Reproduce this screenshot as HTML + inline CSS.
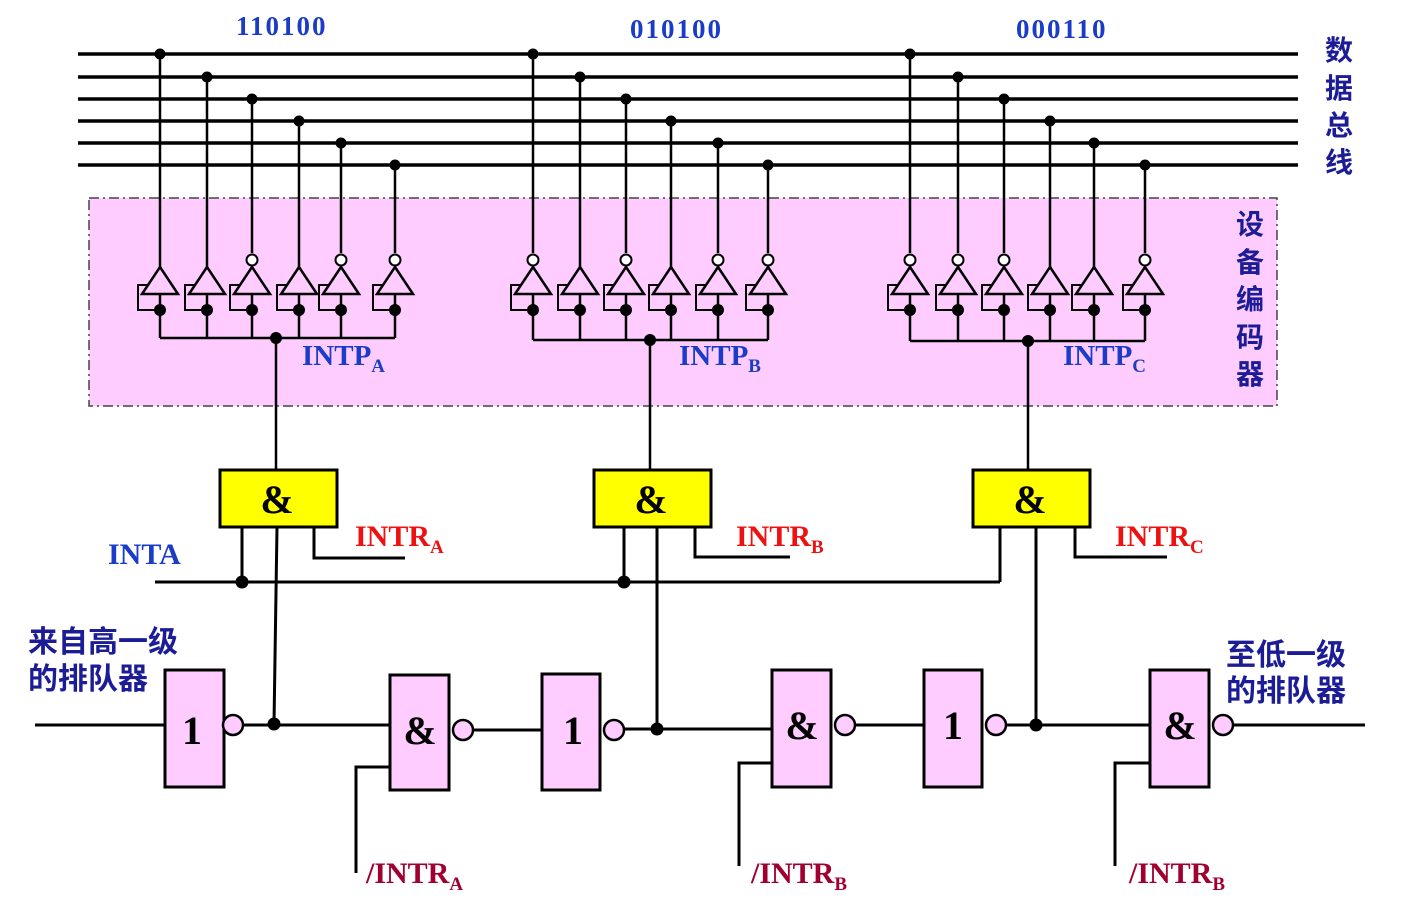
<!DOCTYPE html>
<html><head><meta charset="utf-8"><style>
html,body{margin:0;padding:0;background:#fff;width:1427px;height:919px;overflow:hidden}
svg{display:block}
.b{font-family:"Liberation Serif",serif;font-weight:bold}
.c{font-family:"Liberation Sans","Noto Sans CJK SC",sans-serif;font-weight:bold;fill:#1c1c96}
</style></head><body>
<svg id="s" width="1427" height="919" viewBox="0 0 1427 919" xmlns="http://www.w3.org/2000/svg">
<rect x="89" y="198" width="1188" height="208" fill="#ffccff" stroke="#444" stroke-width="1.5" stroke-dasharray="10,4,2,4"/>
<g id="g" stroke="#000" stroke-width="3" fill="none"></g>
<g id="d" fill="#000"></g>
<text class="b" x="236" y="35" font-size="27" letter-spacing="2" fill="#1a3cc8">110100</text>
<text class="b" x="630" y="38" font-size="27" letter-spacing="2" fill="#1a3cc8">010100</text>
<text class="b" x="1016" y="38" font-size="27" letter-spacing="2" fill="#1a3cc8">000110</text>
<g class="c" font-size="28"><text x="1325" y="60">数</text><text x="1325" y="98">据</text><text x="1325" y="135">总</text><text x="1325" y="172">线</text></g>
<g class="c" font-size="28"><text x="1236" y="234">设</text><text x="1236" y="272">备</text><text x="1236" y="309">编</text><text x="1236" y="347">码</text><text x="1236" y="384">器</text></g>
<text class="b" x="302" y="365" font-size="29" fill="#1a3cc8">INTP<tspan font-size="19" dy="7">A</tspan></text>
<text class="b" x="679" y="365" font-size="29" fill="#1a3cc8">INTP<tspan font-size="19" dy="7">B</tspan></text>
<text class="b" x="1063" y="365" font-size="29" fill="#1a3cc8">INTP<tspan font-size="19" dy="7">C</tspan></text>
<text class="b" x="108" y="564" font-size="30" fill="#1a3cc8">INTA</text>
<text class="b" x="355" y="546" font-size="30" fill="#ee1111">INTR<tspan font-size="19" dy="7">A</tspan></text>
<text class="b" x="736" y="546" font-size="30" fill="#ee1111">INTR<tspan font-size="19" dy="7">B</tspan></text>
<text class="b" x="1115" y="546" font-size="30" fill="#ee1111">INTR<tspan font-size="19" dy="7">C</tspan></text>
<text class="b" x="366" y="883" font-size="30" fill="#a00030">/INTR<tspan font-size="19" dy="7">A</tspan></text>
<text class="b" x="751" y="883" font-size="30" fill="#a00030">/INTR<tspan font-size="19" dy="7">B</tspan></text>
<text class="b" x="1129" y="883" font-size="30" fill="#a00030">/INTR<tspan font-size="19" dy="7">B</tspan></text>
<g class="c" font-size="30"><text x="28" y="652">来自高一级</text><text x="28" y="689">的排队器</text><text x="1226" y="665">至低一级</text><text x="1226" y="701">的排队器</text></g>
<g class="b" font-size="40" fill="#000" text-anchor="middle">
<text x="277" y="513">&amp;</text><text x="651" y="513">&amp;</text><text x="1030" y="513">&amp;</text>
<text x="192" y="744">1</text><text x="420" y="744">&amp;</text><text x="573" y="744">1</text><text x="802" y="739">&amp;</text><text x="953" y="739">1</text><text x="1180" y="739">&amp;</text>
</g>
</svg>
<script>
var g=document.getElementById('g'),d=document.getElementById('d');
function el(p,t,a){var e=document.createElementNS('http://www.w3.org/2000/svg',t);for(var k in a)e.setAttribute(k,a[k]);p.appendChild(e);return e;}
function L(pts,w){el(g,'polyline',{points:pts,'stroke-width':w||3});}
function D(x,y,r){el(d,'circle',{cx:x,cy:y,r:r||6});}
var bus=[54,77,99,121,143,165];
bus.forEach(function(y){L('78,'+y+' 1298,'+y,3.5);});
var groups=[[[160,207,252,299,341,395],'110100',338,276],[[533,580,626,671,718,768],'010100',340,650],[[910,958,1004,1050,1094,1145],'000110',341,1028]];
groups.forEach(function(G){
 var xs=G[0];
 xs.forEach(function(x,i){
  var inv=G[1][i]=='0';
  D(x,bus[i],5.5);
  L(x+','+bus[i]+' '+x+','+(inv?253:267),2.5);
  if(inv) el(g,'circle',{cx:x,cy:260,r:5.5,'stroke-width':2,fill:'#fff'});
  el(g,'polygon',{points:x+',267 '+(x+18)+',294 '+(x-18)+',294','stroke-width':2.5,fill:'none'});
  L(x+',294 '+x+','+G[2],2.5);
  L((x-12)+',285 '+(x-22)+',285 '+(x-22)+',310 '+x+',310',2);
  D(x,310,6);
 });
 L(xs[0]+','+G[2]+' '+xs[5]+','+G[2],2.5);
 D(G[3],G[2],6);
 L(G[3]+','+G[2]+' '+G[3]+',470',2.5);
});
[[220,276],[594,650],[973,1028]].forEach(function(a){el(g,'rect',{x:a[0],y:470,width:117,height:57,fill:'#ffff00','stroke-width':3});});
L('242,527 242,582');D(242,582,6.5);L('277,527 274,724');L('314,527 314,558 405,558');
L('624,527 624,582');D(624,582,6.5);L('657,527 657,729');L('695,527 695,557 790,557');
L('1000,527 1000,582');L('1036,527 1036,725');L('1075,527 1075,557 1167,557');
L('155,582 1000,582');
L('35,725 165,725');L('243,725 390,725');D(274,724,6.5);
L('473,730 542,730');L('624,729 772,729');D(657,729,6.5);
L('855,725 924,725');L('1006,725 1150,725');D(1036,725,6.5);
L('1233,725 1365,725');
[[165,670,59,117],[390,675,59,115],[542,674,58,116],[772,670,59,117],[924,670,58,117],[1150,670,59,117]].forEach(function(r){el(g,'rect',{x:r[0],y:r[1],width:r[2],height:r[3],fill:'#ffccff','stroke-width':3});});
[[233,725],[463,730],[614,730],[845,725],[996,725],[1223,725]].forEach(function(c){el(g,'circle',{cx:c[0],cy:c[1],r:10,fill:'#ffccff','stroke-width':2.5});});
L('390,767 356,767 356,873');L('772,763 739,763 739,866');L('1150,763 1115,763 1115,866');
</script>
</body></html>
